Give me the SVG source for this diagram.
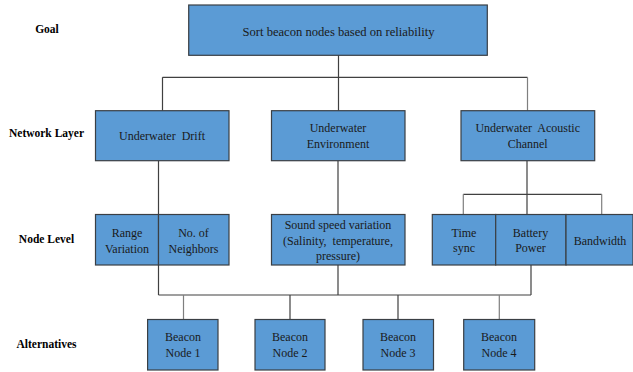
<svg xmlns="http://www.w3.org/2000/svg" width="633" height="372" viewBox="0 0 633 372">
<style>
.box{fill:#5B9BD5;stroke:#3a3f44;stroke-width:1.2}
.t{font-family:"Liberation Serif","Times New Roman",serif;font-size:12px;fill:#1a1a1a;text-anchor:middle}
.lab{font-family:"Liberation Serif","Times New Roman",serif;font-size:11.5px;font-weight:bold;fill:#000;text-anchor:middle}
.c{fill:none;stroke:#404040;stroke-width:1.2}
.g{fill:none;stroke:#7f7f7f;stroke-width:1.2}
</style>
<rect width="633" height="372" fill="#fff"/>
<g id="level-labels">
<text class="lab" x="47" y="32.5">Goal</text>
<text class="lab" x="46.5" y="137">Network Layer</text>
<text class="lab" x="46.5" y="243">Node Level</text>
<text class="lab" x="46.5" y="348">Alternatives</text>
</g>
<g id="connectors">
<path class="c" d="M338.5 55.3 V77.3 M162.5 77.3 H527.5 M162.5 77.3 V110.7 M338.5 77.3 V110.7"/>
<path class="g" d="M527.5 77.3 V110.7"/>
<path class="c" d="M158.5 160.7 V295 M338 160.7 V214.5 M338 265 V295 M527 160.7 V194.3 M463.3 194.3 H601.7 M527 194.3 V214.5"/>
<path class="g" d="M463.3 194.3 V214.5 M601.7 194.3 V214.5"/>
<path class="c" d="M531 265 V295 M158.5 295 H531 M290 295 V319.5 M398 295 V319.5"/>
<path class="g" d="M183.5 295 V319.5 M499.3 295 V319.5"/>
</g>
<g id="goal">
<rect class="box" x="188.7" y="5" width="298.6" height="50.3"/>
<text class="t" x="338.5" y="35.5" style="font-size:12.6px">Sort beacon nodes based on reliability</text>
</g>
<g id="underwater-drift">
<rect class="box" x="95.5" y="110.7" width="133.5" height="50"/>
<text class="t" x="162" y="139.5" xml:space="preserve">Underwater  Drift</text>
</g>
<g id="underwater-environment">
<rect class="box" x="271.5" y="110.7" width="133.5" height="50"/>
<text class="t" x="338" y="132">Underwater</text>
<text class="t" x="338" y="147.5">Environment</text>
</g>
<g id="underwater-acoustic-channel">
<rect class="box" x="461" y="110.7" width="133.7" height="50"/>
<text class="t" x="527.7" y="132" xml:space="preserve">Underwater  Acoustic</text>
<text class="t" x="527.7" y="147.5">Channel</text>
</g>
<g id="range-variation">
<rect class="box" x="95.5" y="214.5" width="63" height="50.5"/>
<text class="t" x="127" y="236.5">Range</text>
<text class="t" x="127" y="252.5">Variation</text>
</g>
<g id="no-of-neighbors">
<rect class="box" x="158.5" y="214.5" width="70.5" height="50.5"/>
<text class="t" x="193.5" y="236.5">No. of</text>
<text class="t" x="193.5" y="252.5">Neighbors</text>
</g>
<g id="sound-speed-variation">
<rect class="box" x="271.5" y="214.5" width="133.5" height="50.5"/>
<text class="t" x="338" y="229">Sound speed variation</text>
<text class="t" x="338" y="244.5" xml:space="preserve">(Salinity,  temperature,</text>
<text class="t" x="338" y="260">pressure)</text>
</g>
<g id="time-sync">
<rect class="box" x="432.3" y="214.5" width="63.4" height="50.5"/>
<text class="t" x="464" y="236.5">Time</text>
<text class="t" x="464" y="252">sync</text>
</g>
<g id="battery-power">
<rect class="box" x="495.7" y="214.5" width="70.3" height="50.5"/>
<text class="t" x="530.5" y="236.5">Battery</text>
<text class="t" x="530.5" y="252">Power</text>
</g>
<g id="bandwidth">
<rect class="box" x="566" y="214.5" width="67" height="50.5"/>
<text class="t" x="600" y="244.5">Bandwidth</text>
</g>
<g id="beacon-node-1">
<rect class="box" x="147.6" y="319.5" width="70.4" height="50.5"/>
<text class="t" x="183" y="341">Beacon</text>
<text class="t" x="183" y="357">Node 1</text>
</g>
<g id="beacon-node-2">
<rect class="box" x="255" y="319.5" width="70" height="50.5"/>
<text class="t" x="290" y="341">Beacon</text>
<text class="t" x="290" y="357">Node 2</text>
</g>
<g id="beacon-node-3">
<rect class="box" x="363" y="319.5" width="70.5" height="50.5"/>
<text class="t" x="398" y="341">Beacon</text>
<text class="t" x="398" y="357">Node 3</text>
</g>
<g id="beacon-node-4">
<rect class="box" x="463.7" y="319.5" width="71" height="50.5"/>
<text class="t" x="499" y="341">Beacon</text>
<text class="t" x="499" y="357">Node 4</text>
</g>
</svg>
